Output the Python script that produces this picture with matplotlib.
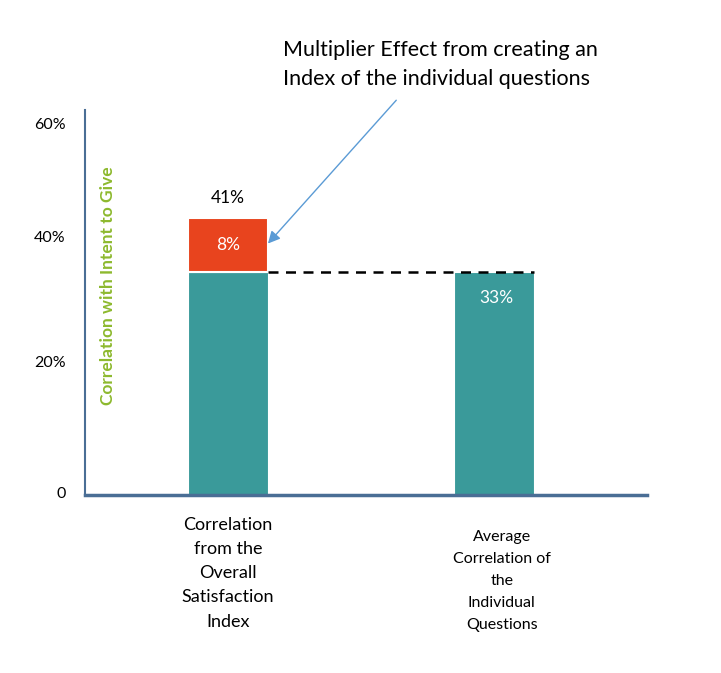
import matplotlib.pyplot as plt
import numpy as np

plt.rcParams['font.family'] = ['Lato', 'DejaVu Sans']

categories = ["Correlation\nfrom the\nOverall\nSatisfaction\nIndex",
              "Average\nCorrelation of\nthe\nIndividual\nQuestions"]
base_values = [33, 33]
extra_values = [8, 0]
total_label = "41%"
extra_label = "8%"
base_label = "33%"
# tick labels sit where the original slide put them (not evenly spaced)
tick_pos = [0.4, 19.7, 38.3, 54.9]
tick_labels = ["0", "20%", "40%", "60%"]

teal = "#3A9A9A"
orange = "#E8441E"
spine_col = "#4A6E95"

fig = plt.figure(figsize=(7.21, 6.73), dpi=100)
ax = fig.add_axes([0.118, 0.2645, 0.779, 0.572])

x = np.arange(len(categories))
ax.bar(x, base_values, width=0.30, color=teal, edgecolor="white", linewidth=0.8)
ax.bar(x[0], extra_values[0], bottom=base_values[0], width=0.30, color=orange,
       edgecolor="white", linewidth=1.5)

# dashed reference line between the two teal tops
ax.plot([x[0] + 0.15, x[1] + 0.15], [base_values[0], base_values[1]],
        color="black", linestyle=(0, (4, 3)), linewidth=1.8)

ax.text(x[0], base_values[0] + extra_values[0] + 3.0, total_label,
        ha="center", va="center", fontsize=12.5, color="black")
ax.text(x[0], base_values[0] + extra_values[0] / 2, extra_label,
        ha="center", va="center", fontsize=12.5, color="white")
ax.text(x[1] + 0.01, base_values[1] - 3.8, base_label,
        ha="center", va="center", fontsize=12.5, color="white")

ax.set_xlim(-0.538, 1.575)
ax.set_ylim(0, 56.95)
ax.set_yticks(tick_pos)
ax.set_yticklabels(tick_labels, fontsize=11.5)
ax.tick_params(axis="y", length=0, pad=14)
ax.set_xticks([])

for s in ["top", "right"]:
    ax.spines[s].set_visible(False)
ax.spines["left"].set_color(spine_col)
ax.spines["left"].set_linewidth(1.5)
ax.spines["bottom"].set_color(spine_col)
ax.spines["bottom"].set_linewidth(2.5)

ax.text(0.04, 0.543, "Correlation with Intent to Give", transform=ax.transAxes,
        rotation=90, ha="center", va="center", fontsize=12.5, color="#8DB92E",
        fontweight="bold")

# category labels under the axis
ax.text(x[0], -3.3, categories[0], ha="center", va="top", fontsize=13,
        linespacing=1.62)
ax.text(x[1] + 0.03, -5.2, categories[1], ha="center", va="top", fontsize=11.5,
        linespacing=1.72)

ax.annotate("Multiplier Effect from creating an\nIndex of the individual questions",
            xy=(x[0] + 0.15, 37.2), xytext=(0.393, 0.94), textcoords="figure fraction",
            fontsize=15.5, ha="left", va="top", linespacing=1.55,
            arrowprops=dict(arrowstyle="-|>", color="#5B9BD5", lw=1,
                            mutation_scale=18, shrinkA=8, shrinkB=0,
                            relpos=(0.39, 0.0)),
            annotation_clip=False)

fig.savefig("out.png", dpi=100)
